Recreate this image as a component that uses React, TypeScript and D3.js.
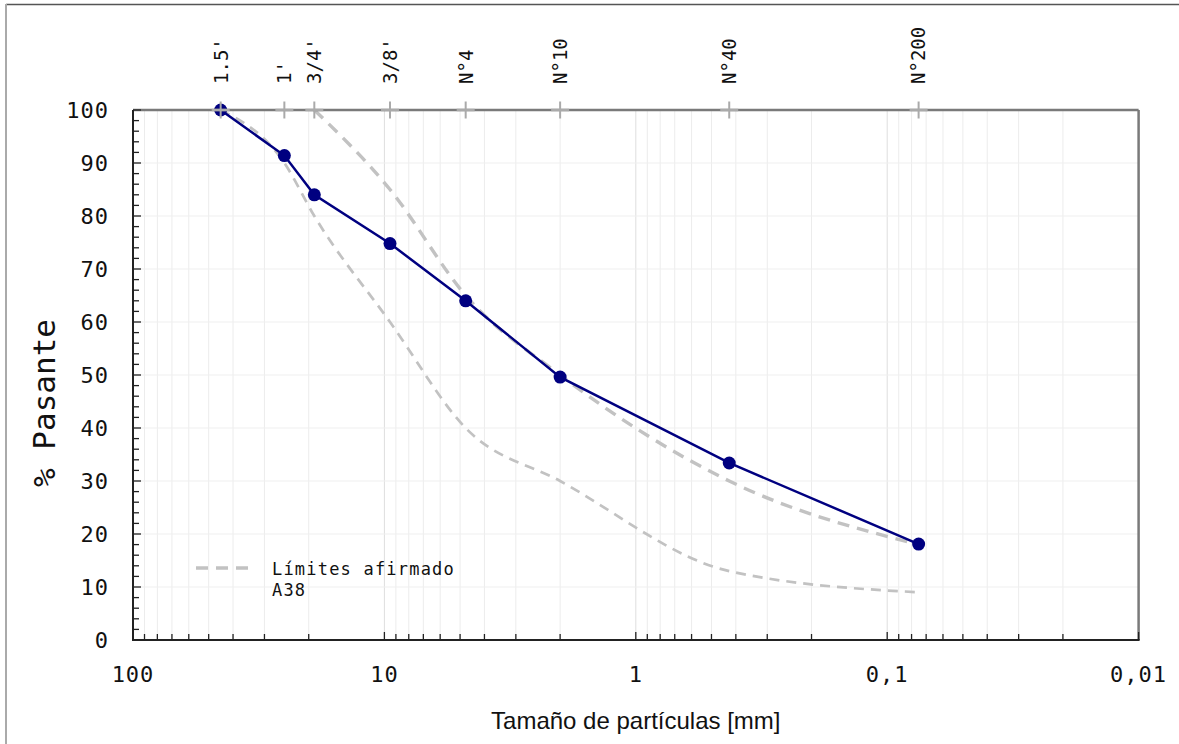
import React from 'react';
import * as d3 from 'd3';

// sieve openings (mm) and their names
const sieveLabels = ["1.5'", "1'", "3/4'", "3/8'", 'N°4', 'N°10', 'N°40', 'N°200'];
const sieveSizes = [44.8, 25, 19, 9.5, 4.75, 2.0, 0.425, 0.075];

// sample: % passing at each sieve
const passing = [100, 91.4, 84.0, 74.8, 64.0, 49.6, 33.4, 18.1];

// "Límites afirmado A38" band
const upperSizes = [19, 9.5, 4.75, 2.0, 0.425, 0.075];
const upperLimit = [100, 85, 65, 50, 30, 18];
const lowerSizes = [44.8, 25, 19, 9.5, 4.75, 2.0, 0.425, 0.075];
const lowerLimit = [100, 90, 80, 60, 40, 30, 13, 9];

const xMajorTicks = [100, 10, 1, 0.1, 0.01];
const xTickLabels = ['100', '10', '1', '0,1', '0,01'];
const yTicks = [0, 10, 20, 30, 40, 50, 60, 70, 80, 90, 100];
const yMinorTicks = d3.range(0, 101, 2);

const W = 1179;
const H = 744;
const margin = { top: 110, right: 40.4, bottom: 104, left: 133 };

const mono = '"DejaVu Sans Mono", "Liberation Mono", monospace';

export default function App() {
  const x = d3.scaleLog().domain([100, 0.01]).range([margin.left, W - margin.right]);
  const y = d3.scaleLinear().domain([0, 100]).range([H - margin.bottom, margin.top]);
  const x0 = x.range()[0];
  const x1 = x.range()[1];
  const y0 = y.range()[0];
  const y1 = y.range()[1];

  const allLogTicks = x.ticks();
  const isMajor = (v: number) => xMajorTicks.some(m => Math.abs(Math.log10(v) - Math.log10(m)) < 1e-6);

  const smooth = d3.line<[number, number]>()
    .x(d => x(d[0]))
    .y(d => y(d[1]))
    .curve(d3.curveMonotoneX);
  const straight = d3.line<[number, number]>()
    .x(d => x(d[0]))
    .y(d => y(d[1]));

  const sample: [number, number][] = sieveSizes.map((s, i) => [s, passing[i]]);
  const upper: [number, number][] = upperSizes.map((s, i) => [s, upperLimit[i]]);
  const lower: [number, number][] = lowerSizes.map((s, i) => [s, lowerLimit[i]]);

  return (
    <div style={{ position: 'fixed', left: 0, top: 0 }}>
      <svg width={W} height={H} style={{ display: 'block', background: '#fff' }}>
        {/* outer frame */}
        <line x1={6} x2={W} y1={4.5} y2={4.5} stroke="#555" strokeWidth={1.5} />
        <line x1={6} x2={6} y1={4} y2={H} stroke="#aaa" strokeWidth={2} />

        {/* grid */}
        {allLogTicks.map((v, i) => (
          <line key={'gx' + i} x1={x(v)} x2={x(v)} y1={y1} y2={y0}
            stroke={isMajor(v) ? '#dedede' : '#ececec'} strokeWidth={1} />
        ))}
        {yTicks.map(v => (
          <line key={'gy' + v} x1={x0} x2={x1} y1={y(v)} y2={y(v)} stroke="#efefef" strokeWidth={1} />
        ))}

        {/* limit curves */}
        <path d={smooth(lower) || ''} fill="none" stroke="#c2c2c2" strokeWidth={2.7} strokeDasharray="10,7" />
        <path d={smooth(upper) || ''} fill="none" stroke="#c2c2c2" strokeWidth={3.4} strokeDasharray="12,8" />

        {/* sample curve */}
        <path d={straight(sample) || ''} fill="none" stroke="#000080" strokeWidth={2.5} />
        {sample.map((d, i) => (
          <circle key={'p' + i} cx={x(d[0])} cy={y(d[1])} r={6.5} fill="#000080" />
        ))}

        {/* frame: top & right gray, left & bottom black */}
        <line x1={x1} x2={x1} y1={y1} y2={y0} stroke="#7a7a7a" strokeWidth={2.5} />
        <line x1={x0} x2={x1} y1={y1} y2={y1} stroke="#7a7a7a" strokeWidth={2.5} />
        <line x1={x0} x2={x1 + 1} y1={y0} y2={y0} stroke="#222" strokeWidth={2} />
        <line x1={x0} x2={x0} y1={y1} y2={y0 + 1} stroke="#222" strokeWidth={2} />

        {/* bottom ticks (inward) */}
        {allLogTicks.map((v, i) => (
          <line key={'tx' + i} x1={x(v)} x2={x(v)} y1={y0} y2={y0 - (isMajor(v) ? 8 : 6)}
            stroke="#222" strokeWidth={1.3} />
        ))}
        {xMajorTicks.map((v, i) => (
          <text key={'lx' + i} x={x(v)} y={682} textAnchor="middle" fontFamily={mono}
            fontSize={22} letterSpacing={1} fill="#111">{xTickLabels[i]}</text>
        ))}

        {/* left ticks (inward) */}
        {yMinorTicks.map(v => (
          <line key={'ty' + v} x1={x0} x2={x0 + (v % 10 === 0 ? 8 : 6)} y1={y(v)} y2={y(v)}
            stroke="#222" strokeWidth={1.3} />
        ))}
        {yTicks.map(v => (
          <text key={'ly' + v} x={109} y={y(v)} dy="0.36em" textAnchor="end" fontFamily={mono}
            fontSize={22} letterSpacing={1} fill="#111">{v}</text>
        ))}

        {/* sieve marks on top axis */}
        {sieveSizes.map((s, i) => (
          <g key={'s' + i} transform={`translate(${x(s)},${y1})`}>
            <line x1={-9} x2={9} y1={0} y2={0} stroke="#aaa" strokeWidth={2.5} />
            <line x1={0} x2={0} y1={-8.5} y2={8.5} stroke="#aaa" strokeWidth={2} />
            <text transform="translate(0,-26) rotate(-90)" dy="0.36em" fontFamily={mono}
              fontSize={19} fill="#111">{sieveLabels[i]}</text>
          </g>
        ))}

        {/* legend */}
        <line x1={196} x2={254} y1={568} y2={568} stroke="#c2c2c2" strokeWidth={3.4} strokeDasharray="12,8" />
        <text x={272} y={575} fontFamily={mono} fontSize={17} letterSpacing={1.2} fill="#111">Límites afirmado</text>
        <text x={272} y={596} fontFamily={mono} fontSize={17} letterSpacing={1.2} fill="#111">A38</text>

        {/* axis titles */}
        <text x={(x0 + x1) / 2} y={729} textAnchor="middle" fontFamily='"Liberation Sans", Arial, sans-serif'
          fontSize={24} fill="#111">Tamaño de partículas [mm]</text>
        <text transform={`translate(55,${(y0 + y1) / 2 + 28}) rotate(-90)`} textAnchor="middle"
          fontFamily={mono} fontSize={31} fill="#111">% Pasante</text>
      </svg>
    </div>
  );
}
